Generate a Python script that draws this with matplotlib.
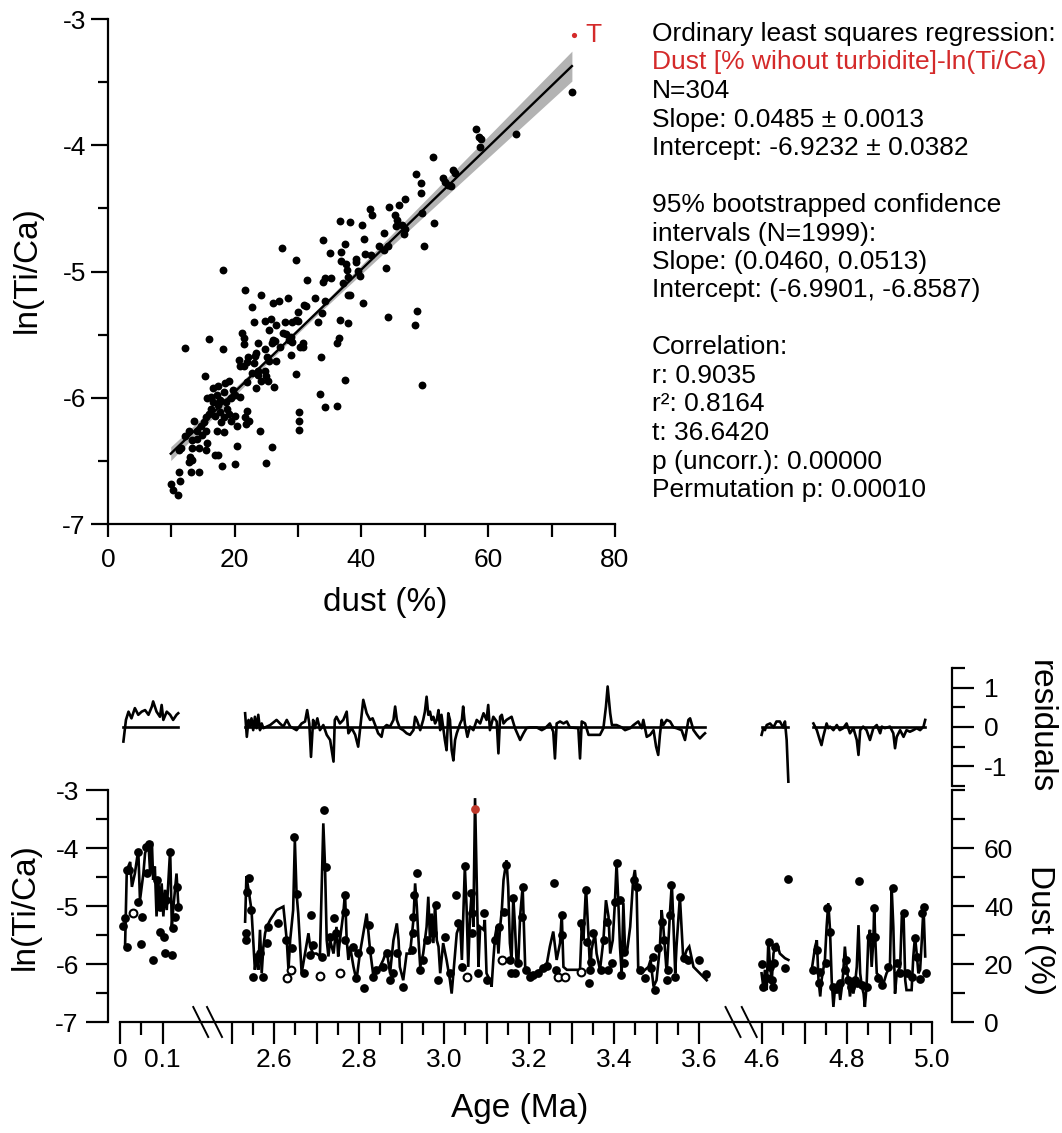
import numpy as np
import matplotlib
matplotlib.use("Agg")
import matplotlib.pyplot as plt
from matplotlib.ticker import FixedLocator, FuncFormatter, MultipleLocator
from matplotlib.lines import Line2D

plt.rcParams['font.family'] = ['Liberation Sans', 'DejaVu Sans']
plt.rcParams['axes.unicode_minus'] = False

RED = '#d42a2a'

# ---------------- regression statistics (from the text block) ----------------
slope = 0.0485
intercept = -6.9232
slope_ci = (0.0460, 0.0513)

# ---------------- scatter: dust (%) vs ln(Ti/Ca) ----------------
scatter_dust = [73.2, 64.3, 58.0, 58.5, 58.9, 58.7, 51.3, 48.6, 49.4, 49.4, 52.8, 53.2, 54.5, 54.8, 53.7, 54.2,
                51.4, 49.6, 49.8, 46.9, 45.9, 44.4, 45.3, 45.6, 45.5, 46.4, 46.8, 46.7, 41.4, 41.6, 40.1, 43.6,
                42.7, 43.5, 44.2, 43.9, 44.2, 48.8, 48.4, 49.5, 40.4, 40.5, 41.5, 39.1, 39.2, 39.5, 39.8, 38.2,
                36.6, 37.4, 36.7, 36.7, 37.6, 37.7, 35.1, 33.9, 37.8, 37.1, 37.8, 38.2, 40.3, 35.2, 34.3, 33.9,
                31.4, 34.3, 32.7, 31.0, 31.3, 33.7, 33.2, 36.6, 37.9, 36.4, 36.2, 37.4, 29.6, 27.4, 28.4, 27.0,
                26.1, 24.1, 21.6, 22.8, 30.0, 29.6, 30.0, 29.1, 27.9, 26.5, 25.7, 24.8, 23.1, 25.4, 26.1, 27.6,
                28.1, 28.5, 29.1, 30.8, 30.7, 30.3, 26.3, 25.9, 21.1, 21.4, 16.0, 12.1, 18.1, 18.1, 20.7, 22.1,
                23.4, 24.7, 25.1, 26.5, 28.8, 33.6, 29.7, 24.8, 23.7, 23.1, 21.9, 21.4, 20.8, 24.9, 26.2, 21.9,
                23.4, 25.2, 20.8, 19.7, 19.1, 18.5, 17.4, 16.6, 15.3, 16.3, 17.2, 18.3, 19.4, 20.0, 15.7, 16.3,
                17.4, 17.7, 18.6, 16.9, 18.3, 19.4, 20.0, 20.3, 21.9, 21.6, 22.3, 21.7, 16.0, 15.5, 15.2, 14.6,
                13.5, 14.0, 12.8, 12.1, 11.5, 13.2, 14.0, 14.9, 15.5, 15.7, 17.2, 18.3, 15.5, 14.3, 13.2, 12.9,
                13.2, 12.8, 11.2, 16.9, 17.3, 18.0, 20.3, 20.0, 24.0, 25.8, 24.9, 30.2, 30.2, 30.2, 33.5, 34.2,
                36.1, 11.2, 13.1, 14.3, 11.3, 9.9, 10.2, 11.1, 16.6, 17.7, 18.8, 19.1, 17.9, 21.4, 23.2, 23.7,
                24.2, 23.7, 22.8, 25.4, 27.1, 28.8]
scatter_ln = [-3.575, -3.907, -3.872, -3.935, -3.954, -4.011, -4.093, -4.229, -4.297, -4.379, -4.256, -4.289,
              -4.193, -4.221, -4.316, -4.324, -4.616, -4.534, -4.796, -4.425, -4.474, -4.493, -4.556, -4.589,
              -4.638, -4.629, -4.665, -4.703, -4.507, -4.553, -4.629, -4.698, -4.801, -4.828, -4.801, -4.970,
              -5.362, -5.316, -5.425, -5.899, -4.741, -4.861, -4.866, -4.921, -4.902, -4.997, -5.038, -4.608,
              -4.597, -4.779, -4.842, -4.916, -4.943, -4.989, -4.856, -4.747, -5.044, -5.095, -5.183, -5.183,
              -5.251, -5.052, -5.052, -5.087, -5.071, -5.237, -5.210, -5.264, -5.270, -5.332, -5.401, -5.384,
              -5.411, -5.529, -5.569, -5.856, -4.907, -4.815, -5.210, -5.237, -5.248, -5.188, -5.147, -5.278,
              -5.319, -5.387, -5.392, -5.398, -5.401, -5.420, -5.379, -5.392, -5.401, -5.466, -5.542, -5.488,
              -5.493, -5.542, -5.556, -5.569, -5.597, -5.597, -5.548, -5.569, -5.488, -5.523, -5.534, -5.605,
              -4.992, -5.610, -5.698, -5.678, -5.643, -5.616, -5.678, -5.711, -5.659, -5.678, -5.815, -5.787,
              -5.787, -5.727, -5.719, -5.747, -5.752, -5.828, -5.916, -5.877, -5.924, -5.864, -5.997, -5.937,
              -5.869, -5.883, -5.905, -5.924, -5.828, -5.992, -5.978, -5.951, -6.005, -5.978, -6.005, -6.087,
              -6.060, -6.114, -6.033, -6.142, -6.155, -6.183, -6.142, -6.223, -6.106, -6.155, -6.183, -6.210,
              -6.128, -6.155, -6.196, -6.223, -6.183, -6.264, -6.264, -6.305, -6.401, -6.332, -6.327, -6.292,
              -6.264, -6.360, -6.264, -6.273, -6.414, -6.401, -6.401, -6.469, -6.496, -6.510, -6.414, -6.455,
              -6.455, -6.537, -6.379, -6.523, -6.264, -6.387, -6.520, -6.114, -6.183, -6.259, -5.973, -6.074,
              -6.068, -6.591, -6.591, -6.591, -6.659, -6.687, -6.728, -6.768, -6.033, -6.019, -6.087, -6.128,
              -6.191, -5.574, -5.673, -5.569, -5.869, -5.820, -5.806, -5.706, -5.597, -5.515]
turb_sc_dust = [73.5]
turb_sc_ln = [-3.13]

# ---------------- time series: ln(Ti/Ca) line, per segment ----------------
line_age_1 = [0.012, 0.016, 0.024, 0.028, 0.035, 0.043, 0.047, 0.055, 0.059, 0.067, 0.071, 0.075, 0.078,
              0.082, 0.086, 0.090, 0.094, 0.098, 0.102, 0.106, 0.110, 0.118, 0.122, 0.125, 0.133, 0.137]
line_ln_1 = [-5.67, -4.38, -4.24, -4.67, -4.44, -4.03, -4.90, -4.44, -4.09, -3.92, -4.44, -3.89, -4.55,
             -4.32, -5.18, -4.55, -5.01, -4.61, -5.18, -4.72, -5.07, -4.03, -5.36, -5.07, -4.44, -4.95]

line_age_2 = [2.532, 2.535, 2.540, 2.547, 2.551, 2.555, 2.559, 2.563, 2.567, 2.571, 2.575, 2.579, 2.583, 2.591,
              2.606, 2.622, 2.630, 2.634, 2.638, 2.645, 2.649, 2.653, 2.657, 2.665, 2.673, 2.681, 2.685, 2.692,
              2.700, 2.708, 2.716, 2.720, 2.724, 2.728, 2.732, 2.740, 2.747, 2.751, 2.755, 2.763, 2.767, 2.771,
              2.775, 2.779, 2.787, 2.794, 2.802, 2.810, 2.818, 2.826, 2.834, 2.842, 2.849, 2.857, 2.865, 2.873,
              2.881, 2.889, 2.893, 2.896, 2.904, 2.912, 2.920, 2.928, 2.932, 2.936, 2.940, 2.944, 2.951, 2.959,
              2.963, 2.967, 2.971, 2.975, 2.979, 2.983, 2.987, 2.991, 2.998, 3.006, 3.014, 3.018, 3.022, 3.030,
              3.038, 3.042, 3.049, 3.053, 3.057, 3.061, 3.065, 3.069, 3.073, 3.077, 3.081, 3.085,
              3.093, 3.096, 3.100, 3.108, 3.112, 3.116, 3.120, 3.124, 3.128, 3.132, 3.136, 3.140, 3.147, 3.151,
              3.155, 3.159, 3.163, 3.167, 3.171, 3.175, 3.179, 3.185, 3.191, 3.194, 3.202, 3.218, 3.234, 3.242,
              3.249, 3.257, 3.265, 3.273, 3.277, 3.281, 3.289, 3.320, 3.324, 3.328, 3.334, 3.340, 3.344, 3.347,
              3.355, 3.359, 3.367, 3.375, 3.381, 3.387, 3.391, 3.397, 3.402, 3.406, 3.410, 3.414, 3.418, 3.422,
              3.426, 3.430, 3.438, 3.445, 3.449, 3.453, 3.457, 3.465, 3.473, 3.481, 3.486, 3.493, 3.500, 3.508,
              3.512, 3.516, 3.524, 3.532, 3.536, 3.540, 3.544, 3.547, 3.555, 3.563, 3.571, 3.577, 3.587, 3.602,
              3.618]
line_ln_2 = [-5.27, -4.49, -4.72, -5.07, -5.59, -6.10, -5.82, -6.10, -5.41, -6.16, -5.70, -5.47, -5.36, -5.24,
             -5.07, -5.01, -5.59, -6.10, -5.59, -5.07, -3.86, -4.78, -5.13, -6.16, -5.82, -5.47, -5.70, -5.82,
             -5.82, -5.87, -3.575, -4.32, -5.59, -5.87, -5.59, -5.82, -5.36, -5.87, -5.59, -5.13, -4.78, -5.59,
             -5.93, -5.70, -6.05, -6.28, -5.82, -5.47, -5.13, -5.76, -6.22, -6.10, -6.05, -5.93, -5.76, -6.16,
             -5.59, -5.30, -5.59, -6.05, -6.28, -5.82, -5.82, -5.24, -4.61, -5.01, -5.59, -6.05, -5.82, -5.36,
             -4.84, -5.59, -5.13, -5.64, -4.95, -5.59, -5.70, -6.16, -5.64, -5.93, -6.28, -6.51, -6.16, -5.47,
             -5.30, -5.93, -4.32, -5.01, -6.05, -5.18, -4.78, -5.36, -3.14, -4.55, -6.05, -5.36,
             -5.41, -5.24, -6.16, -6.28, -6.39, -5.93, -5.53, -5.36, -5.82, -5.36, -5.07, -4.55, -4.21, -4.67,
             -5.64, -5.93, -4.84, -5.36, -5.99, -5.93, -5.18, -4.67, -6.05, -6.10, -6.16, -6.16, -6.05, -5.99,
             -5.70, -5.44, -5.93, -5.64, -5.13, -6.05, -6.10, -6.10, -5.36, -5.59, -4.67, -5.53, -6.16, -5.76,
             -5.47, -5.82, -6.10, -5.59, -4.90, -5.18, -5.82, -5.59, -4.95, -4.26, -4.90, -5.70, -6.16, -4.95,
             -5.76, -5.82, -5.36, -4.55, -4.38, -4.67, -6.10, -6.16, -6.10, -6.05, -5.93, -6.39, -6.28, -5.70,
             -5.07, -5.36, -6.16, -5.07, -4.61, -5.36, -6.16, -5.70, -4.84, -5.93, -5.76, -5.70, -6.05, -6.16,
             -6.28]

line_age_3a = [4.599, 4.603, 4.607, 4.611, 4.615, 4.619, 4.623, 4.627, 4.631, 4.635, 4.642, 4.654, 4.662]
line_ln_3a = [-6.16, -6.39, -6.10, -6.45, -5.59, -6.05, -6.28, -5.82, -5.70, -5.64, -5.82, -5.90, -5.93]

line_age_3b = [4.717, 4.725, 4.729, 4.733, 4.737, 4.740, 4.744, 4.748, 4.752, 4.756, 4.760, 4.764, 4.768,
               4.772, 4.776, 4.780, 4.784, 4.788, 4.791, 4.795, 4.799, 4.803, 4.807, 4.811, 4.815, 4.819,
               4.823, 4.827, 4.831, 4.835, 4.839, 4.842, 4.846, 4.850, 4.854, 4.858, 4.862, 4.864, 4.866,
               4.870, 4.878, 4.886, 4.893, 4.901, 4.905, 4.909, 4.913, 4.917, 4.925, 4.929, 4.933, 4.937,
               4.940, 4.952, 4.956, 4.960, 4.964, 4.968, 4.972, 4.976, 4.980, 4.984]
line_ln_3b = [-6.10, -5.70, -5.59, -6.28, -6.56, -6.28, -6.10, -5.93, -5.36, -4.95, -5.41, -6.28, -6.74,
              -6.39, -6.51, -6.33, -6.62, -6.39, -6.16, -5.70, -6.05, -6.28, -6.56, -6.33, -6.51, -6.33,
              -6.05, -5.33, -6.16, -6.39, -6.51, -6.74, -6.39, -5.59, -5.41, -6.05, -5.59, -5.01, -5.47,
              -6.16, -6.22, -6.33, -6.16, -6.05, -4.67, -5.36, -6.51, -6.16, -6.05, -5.18, -5.13, -6.28,
              -6.45, -6.45, -5.87, -5.53, -5.82, -6.16, -6.10, -5.59, -5.01, -5.87]

# ---------------- time series: dust (%) samples ----------------
dust_age = [0.008, 0.012, 0.016, 0.017, 0.022, 0.042, 0.043, 0.049, 0.051, 0.061, 0.064, 0.069, 0.078,
            0.086, 0.093, 0.094, 0.104, 0.106, 0.108, 0.118, 0.122, 0.125, 0.129, 0.135, 0.137,
            2.533, 2.533, 2.540, 2.537, 2.546, 2.551, 2.567, 2.573, 2.583, 2.587, 2.610, 2.628, 2.642, 2.648,
            2.653, 2.671, 2.685, 2.687, 2.691, 2.712, 2.718, 2.722, 2.732, 2.740, 2.747, 2.767, 2.767, 2.767,
            2.785, 2.794, 2.798, 2.812, 2.824, 2.826, 2.834, 2.839, 2.857, 2.865, 2.873, 2.881, 2.889, 2.904,
            2.924, 2.926, 2.928, 2.929, 2.936, 2.944, 2.951, 2.959, 2.975, 2.981, 2.987, 3.002, 3.014, 3.028,
            3.034, 3.042, 3.049, 3.063, 3.065, 3.067, 3.081, 3.094, 3.102,
            3.120, 3.130, 3.141, 3.147, 3.155, 3.157, 3.163, 3.167, 3.175, 3.183, 3.187, 3.194, 3.202, 3.210,
            3.222, 3.234, 3.242, 3.259, 3.264, 3.277, 3.277, 3.322, 3.334, 3.336, 3.340, 3.344, 3.347, 3.351,
            3.369, 3.376, 3.383, 3.387, 3.395, 3.402, 3.406, 3.414, 3.416, 3.424, 3.424, 3.448, 3.455, 3.461,
            3.473, 3.486, 3.491, 3.496, 3.504, 3.512, 3.518, 3.524, 3.528, 3.532, 3.534, 3.544, 3.555, 3.565,
            3.575, 3.601, 3.616,
            4.599, 4.603, 4.611, 4.617, 4.619, 4.623, 4.627, 4.629, 4.631, 4.653, 4.662,
            4.721, 4.729, 4.733, 4.737, 4.751, 4.754, 4.760, 4.768, 4.776, 4.784, 4.795, 4.798, 4.803, 4.809,
            4.819, 4.823, 4.829, 4.835, 4.846, 4.853, 4.858, 4.864, 4.866, 4.874, 4.882, 4.897, 4.908, 4.917,
            4.925, 4.934, 4.940, 4.952, 4.960, 4.964, 4.972, 4.976, 4.980, 4.986]
dust_pct = [33.1, 35.7, 26.0, 52.4, 52.4, 58.7, 41.5, 26.8, 36.3, 60.5, 51.3, 61.4, 21.4,
            49.0, 31.1, 39.8, 29.4, 23.7, 42.1, 58.7, 23.1, 32.3, 36.3, 46.7, 39.8,
            30.6, 28.3, 49.5, 44.9, 38.6, 15.4, 23.7, 15.4, 27.1, 32.9, 34.0, 28.3, 25.4, 63.9,
            44.1, 16.8, 23.1, 36.9, 26.6, 22.5, 73.1, 53.6, 29.4, 35.7, 30.6, 43.8, 38.0, 28.3,
            26.0, 15.1, 23.7, 11.6, 33.4, 24.8, 15.6, 17.9, 19.1, 23.7, 14.5, 16.8, 23.7, 12.2,
            24.8, 30.6, 36.3, 43.8, 51.3, 17.9, 21.4, 28.3, 30.6, 40.3, 14.5, 29.4, 16.8, 43.8,
            34.0, 19.1, 53.9, 44.4, 37.5, 30.6, 16.8, 37.5, 14.5,
            28.3, 32.9, 38.0, 54.1, 21.4, 16.8, 42.6, 16.8, 20.2, 36.3, 46.4, 17.9, 15.6, 16.2,
            16.8, 18.5, 19.3, 48.0, 17.9, 36.9, 30.0, 34.0, 45.5, 27.7, 13.3, 17.9, 20.8, 30.6,
            17.9, 28.3, 34.6, 17.9, 20.5, 41.5, 54.7, 42.1, 16.2, 20.5, 24.2, 49.0, 46.7, 17.9,
            15.1, 18.5, 22.5, 11.0, 25.4, 34.6, 28.3, 14.5, 17.9, 36.9, 47.2, 15.6, 43.2, 22.0,
            21.4, 21.4, 16.5,
            20.0, 12.2, 15.1, 27.7, 19.1, 14.5, 12.2, 20.2, 26.0, 18.5, 49.2,
            17.9, 24.8, 13.3, 17.3, 20.2, 39.2, 31.2, 12.2, 12.2, 13.3, 17.9, 21.4, 14.5, 12.2,
            14.5, 13.3, 48.6, 12.7, 12.2, 29.4, 29.4, 39.2, 29.4, 15.1, 12.7, 19.1, 46.1, 20.2,
            16.8, 37.5, 16.8, 15.6, 28.9, 22.5, 14.7, 37.5, 39.8, 16.8]
dust_open_age = [0.031, 2.631, 2.639, 2.708, 2.755, 3.055, 3.136, 3.269, 3.285, 3.322]
dust_open_pct = [37.5, 15.1, 17.9, 15.9, 16.8, 15.6, 21.4, 15.4, 15.4, 17.3]
turb_age = [3.073]
turb_dust = [73.4]

# ---------------- residuals, per segment ----------------
res_age_1 = [0.008, 0.014, 0.020, 0.027, 0.035, 0.043, 0.051, 0.059, 0.067, 0.075, 0.078, 0.086, 0.094,
             0.098, 0.102, 0.110, 0.118, 0.125, 0.133, 0.137]
res_1 = [-0.37, 0.18, 0.39, 0.22, 0.48, 0.31, 0.39, 0.43, 0.31, 0.52, 0.65, 0.39, 0.26, 0.56, 0.18, 0.39,
         0.31, 0.18, 0.31, 0.35]
res_age_2 = [2.532, 2.536, 2.540, 2.543, 2.547, 2.551, 2.555, 2.559, 2.563, 2.567, 2.571, 2.575, 2.583, 2.591,
             2.606, 2.614, 2.622, 2.630, 2.638, 2.645, 2.653, 2.665, 2.673, 2.678, 2.683, 2.687, 2.692, 2.696,
             2.702, 2.708, 2.716, 2.724, 2.732, 2.740, 2.743, 2.747, 2.755, 2.763, 2.771, 2.775, 2.783, 2.791,
             2.798, 2.805, 2.810, 2.818, 2.826, 2.832, 2.838, 2.845, 2.853, 2.857, 2.865, 2.873, 2.881, 2.885,
             2.889, 2.896, 2.904, 2.912, 2.920, 2.928, 2.932, 2.936, 2.944, 2.951, 2.955, 2.959, 2.963, 2.967,
             2.971, 2.975, 2.979, 2.983, 2.987, 2.991, 2.994, 3.002, 3.006, 3.010, 3.014, 3.018, 3.022, 3.026,
             3.030, 3.038, 3.042, 3.045, 3.049, 3.055, 3.061, 3.069, 3.077, 3.085, 3.093, 3.100, 3.104, 3.108,
             3.116, 3.124, 3.128, 3.132, 3.136, 3.140, 3.147, 3.159, 3.167, 3.179, 3.187, 3.194, 3.202, 3.218,
             3.230, 3.238, 3.249, 3.257, 3.261, 3.265, 3.273, 3.281, 3.289, 3.296, 3.316, 3.320, 3.324, 3.332,
             3.340, 3.351, 3.367, 3.375, 3.381, 3.385, 3.391, 3.395, 3.406, 3.418, 3.426, 3.438, 3.446, 3.457,
             3.465, 3.469, 3.477, 3.485, 3.493, 3.499, 3.504, 3.508, 3.512, 3.516, 3.524, 3.532, 3.540, 3.547,
             3.559, 3.567, 3.575, 3.579, 3.587, 3.595, 3.602, 3.610, 3.614]
res_2 = [0.35, -0.25, 0.18, 0.01, 0.22, -0.08, 0.26, -0.03, 0.31, -0.08, 0.09, -0.03, 0.01, 0.05,
         0.18, 0.09, 0.01, 0.18, 0.01, -0.03, -0.08, 0.09, 0.14, 0.43, 0.09, -0.76, 0.18, -0.03,
         0.22, -0.08, 0.05, -0.20, -0.33, -0.88, 0.18, 0.26, 0.09, 0.18, 0.39, -0.16, -0.03, -0.20,
         -0.50, 0.18, 0.69, 0.35, 0.18, 0.22, 0.05, -0.16, -0.25, -0.03, 0.05, 0.01, 0.18, 0.52,
         0.18, -0.03, -0.08, -0.16, -0.20, -0.08, 0.26, 0.18, -0.08, 0.18, 0.39, 0.77, 0.31, 0.39,
         0.18, 0.26, 0.09, 0.18, 0.43, -0.08, 0.31, -0.33, -0.59, 0.35, 0.18, -0.59, -0.85, -0.33,
         -0.16, 0.09, 0.18, 0.52, 0.09, -0.25, 0.01, -0.08, 0.18, 0.09, 0.35, 0.18, 0.56, -0.08,
         0.26, 0.14, -0.67, 0.26, 0.31, 0.09, 0.18, 0.26, -0.03, -0.33, -0.16, -0.03, -0.01, -0.01,
         -0.08, -0.03, 0.09, -0.12, -0.80, 0.09, 0.14, 0.09, 0.14, -0.01, -0.03, -0.80, 0.14, 0.09,
         -0.20, -0.20, -0.20, -0.03, 0.52, 1.03, 0.35, 0.05, 0.05, -0.01, -0.08, -0.03, 0.05, 0.14,
         -0.03, 0.18, -0.25, -0.20, -0.08, -0.50, -0.71, -0.20, 0.18, 0.05, 0.18, 0.14, -0.01, -0.03,
         -0.08, -0.33, 0.18, 0.22, -0.08, -0.20, -0.29, -0.20, -0.16]
res_age_3a = [4.599, 4.603, 4.607, 4.611, 4.619, 4.627, 4.634, 4.642, 4.650, 4.654, 4.658, 4.662]
res_3a = [-0.20, -0.03, -0.08, 0.05, 0.09, -0.01, 0.14, 0.14, -0.01, 0.14, -0.33, -1.39]
res_age_3b = [4.721, 4.729, 4.736, 4.740, 4.744, 4.748, 4.752, 4.756, 4.760, 4.768, 4.776, 4.783, 4.791,
              4.799, 4.807, 4.815, 4.823, 4.827, 4.831, 4.838, 4.846, 4.854, 4.862, 4.870, 4.878, 4.882,
              4.889, 4.901, 4.909, 4.913, 4.917, 4.925, 4.933, 4.940, 4.948, 4.956, 4.964, 4.972, 4.980,
              4.984]
res_3b = [0.09, -0.08, -0.33, -0.46, -0.25, -0.08, 0.09, -0.03, 0.01, -0.08, 0.05, -0.08, -0.03,
          0.09, -0.16, -0.03, -0.33, -0.71, -0.08, 0.01, -0.08, -0.33, -0.03, 0.05, -0.16, 0.01,
          -0.03, 0.01, -0.16, -0.54, -0.25, -0.08, -0.25, -0.08, -0.12, -0.08, -0.03, -0.08, 0.01,
          0.18]

# ---------------- axis ticks ----------------
age_major = [0, 0.1, 2.5, 2.6, 2.7, 2.8, 2.9, 3.0, 3.1, 3.2, 3.3, 3.4, 3.5, 3.6, 4.6, 4.7, 4.8, 4.9, 5.0]
age_minor = [0.05, 2.55, 2.65, 2.75, 2.85, 2.95, 3.05, 3.15, 3.25, 3.35, 3.45, 3.55, 4.65, 4.75, 4.85, 4.95]
age_labels = {0: '0', 0.1: '0.1', 2.6: '2.6', 2.8: '2.8', 3.0: '3.0', 3.2: '3.2', 3.4: '3.4',
              3.6: '3.6', 4.6: '4.6', 4.8: '4.8', 5.0: '5.0'}
# broken axis: segment edges (Ma) and their positions on a continuous internal axis
seg_age = [-1.0, 0.19, 2.46, 3.68, 4.57, 6.0]
seg_pos = [-1.0, 0.19, 0.2224, 1.4424, 1.4806, 2.9106]

W, H = 1062, 1133
fig = plt.figure(figsize=(W / 100, H / 100), dpi=100)


def box(x0, y0, x1, y1):
    return [x0 / W, 1 - y1 / H, (x1 - x0) / W, (y1 - y0) / H]


LW = 1.6
TICK = 19
LAB = 24
SERIES_LW = 1.9

# ======================= scatter =======================
ax = fig.add_axes(box(108, 19, 615, 524))
xfit = np.linspace(min(scatter_dust), max(scatter_dust), 200)
yfit = intercept + slope * xfit
xm = np.mean(scatter_dust)
half = np.sqrt(0.02 ** 2 + ((slope_ci[1] - slope_ci[0]) / 2 * (xfit - xm)) ** 2)
ax.fill_between(xfit, yfit - half, yfit + half, color='#b3b3b3', lw=0, zorder=1)
ax.plot(xfit, yfit, color='k', lw=1.7, zorder=2)
ax.scatter(scatter_dust, scatter_ln, s=32, c='k', lw=0, zorder=3)
ax.scatter(turb_sc_dust, turb_sc_ln, s=14, c=RED, lw=0, zorder=3)
ax.text(turb_sc_dust[0] + 1.8, turb_sc_ln[0], 'T', color=RED, fontsize=TICK, ha='left', va='center')
ax.set_xlim(0, 80)
ax.set_ylim(-7, -3)
for s in ('top', 'right'):
    ax.spines[s].set_visible(False)
for s in ('left', 'bottom'):
    ax.spines[s].set_linewidth(LW)
ax.xaxis.set_major_locator(MultipleLocator(10))
ax.xaxis.set_major_formatter(FuncFormatter(lambda v, p: f'{v:.0f}' if int(round(v)) % 20 == 0 else ''))
ax.yaxis.set_major_locator(MultipleLocator(1))
ax.yaxis.set_minor_locator(MultipleLocator(0.5))
ax.yaxis.set_major_formatter(FuncFormatter(lambda v, p: f'{v:.0f}'))
ax.tick_params(axis='x', which='major', length=9, width=LW, labelsize=TICK, pad=8)
ax.tick_params(axis='y', which='major', length=12, width=LW, labelsize=TICK, pad=4)
ax.tick_params(axis='y', which='minor', length=7, width=LW)
fig.text(27 / W, 1 - 270 / H, 'ln(Ti/Ca)', rotation=90, ha='center', va='center', fontsize=LAB)
fig.text(385 / W, 1 - 602 / H, 'dust (%)', ha='center', va='center', fontsize=LAB)

# statistics text block
stat_lines = [
    ('Ordinary least squares regression:', 'k'),
    ('Dust [% wihout turbidite]-ln(Ti/Ca)', RED),
    ('N=304', 'k'),
    ('Slope: 0.0485 ± 0.0013', 'k'),
    ('Intercept: -6.9232 ± 0.0382', 'k'),
    ('', 'k'),
    ('95% bootstrapped confidence', 'k'),
    ('intervals (N=1999):', 'k'),
    ('Slope: (0.0460, 0.0513)', 'k'),
    ('Intercept: (-6.9901, -6.8587)', 'k'),
    ('', 'k'),
    ('Correlation:', 'k'),
    ('r: 0.9035', 'k'),
    ('r²: 0.8164', 'k'),
    ('t: 36.6420', 'k'),
    ('p (uncorr.): 0.00000', 'k'),
    ('Permutation p: 0.00010', 'k'),
]
for k, (txt, col) in enumerate(stat_lines):
    if txt:
        fig.text(652 / W, 1 - (34 + 28.5 * k) / H, txt, color=col, fontsize=19,
                 ha='left', va='center')

# ======================= time series =======================
fwd = lambda a: np.interp(a, seg_age, seg_pos)
inv = lambda u: np.interp(u, seg_pos, seg_age)
px_per_ma = 425.0
xlim = (inv((108 - 120) / px_per_ma), inv((952 - 120) / px_per_ma))

axB = fig.add_axes(box(108, 790, 952, 1022))
axB.set_xscale('function', functions=(fwd, inv))
axB.set_xlim(*xlim)
axB.set_ylim(-7, -3)
for a_, l_ in ((line_age_1, line_ln_1), (line_age_2, line_ln_2),
               (line_age_3a, line_ln_3a), (line_age_3b, line_ln_3b)):
    axB.plot(a_, l_, color='k', lw=SERIES_LW, zorder=2, solid_joinstyle='miter')
axB.spines['top'].set_visible(False)
axB.spines['right'].set_visible(False)
axB.spines['left'].set_linewidth(LW)
axB.spines['bottom'].set_linewidth(LW)
axB.spines['bottom'].set_bounds(0, 5.0)
axB.xaxis.set_major_locator(FixedLocator(age_major))
axB.xaxis.set_minor_locator(FixedLocator(age_minor))


def age_fmt(v, p):
    for k_, s_ in age_labels.items():
        if abs(v - k_) < 1e-6:
            return s_
    return ''


axB.xaxis.set_major_formatter(FuncFormatter(age_fmt))
axB.xaxis.set_minor_formatter(FuncFormatter(lambda v, p: ''))
axB.tick_params(axis='x', which='major', length=16, width=LW, labelsize=TICK, pad=3)
axB.tick_params(axis='x', which='minor', length=9, width=LW)
axB.yaxis.set_major_locator(MultipleLocator(1))
axB.yaxis.set_minor_locator(MultipleLocator(0.5))
axB.yaxis.set_major_formatter(FuncFormatter(lambda v, p: f'{v:.0f}'))
axB.tick_params(axis='y', which='major', length=16, width=LW, labelsize=TICK, pad=5)
axB.tick_params(axis='y', which='minor', length=9, width=LW)

axD = axB.twinx()
axD.set_ylim(0, 80)
axD.plot(dust_age, dust_pct, 'o', color='k', ms=6.3, mew=0, zorder=3)
axD.plot(dust_open_age, dust_open_pct, 'o', mfc='white', mec='k', ms=5.6, mew=1.5, zorder=3)
axD.plot(turb_age, turb_dust, 'o', color='#c0392b', ms=6.3, mew=0, zorder=4)
for s in ('left', 'top', 'bottom'):
    axD.spines[s].set_visible(False)
axD.spines['right'].set_linewidth(LW)
axD.yaxis.set_major_locator(FixedLocator([0, 20, 40, 60]))
axD.yaxis.set_minor_locator(FixedLocator([10, 30, 50, 70, 80]))
axD.yaxis.set_major_formatter(FuncFormatter(lambda v, p: f'{v:.0f}'))
axD.tick_params(axis='y', which='major', length=16, width=LW, labelsize=TICK, pad=7)
axD.tick_params(axis='y', which='minor', length=9, width=LW)

axR = fig.add_axes(box(108, 668, 952, 786))
axR.patch.set_visible(False)
axR.set_xscale('function', functions=(fwd, inv))
axR.set_xlim(*xlim)
axR.set_ylim(-1.5, 1.5)
for a_, r_ in ((res_age_1, res_1), (res_age_2, res_2), (res_age_3a, res_3a), (res_age_3b, res_3b)):
    axR.plot([min(a_), max(a_)], [0, 0], color='k', lw=SERIES_LW)
    axR.plot(a_, r_, color='k', lw=SERIES_LW)
for s in ('left', 'top', 'bottom'):
    axR.spines[s].set_visible(False)
axR.spines['right'].set_linewidth(LW)
axR.xaxis.set_visible(False)
axR.yaxis.tick_right()
axR.yaxis.set_major_locator(FixedLocator([-1, 0, 1]))
axR.yaxis.set_minor_locator(FixedLocator([-1.5, -0.5, 0.5, 1.5]))
axR.yaxis.set_major_formatter(FuncFormatter(lambda v, p: f'{v:.0f}'))
axR.tick_params(axis='y', which='major', length=16, width=LW, labelsize=TICK, pad=7)
axR.tick_params(axis='y', which='minor', length=9, width=LW)

# break marks on the age axis
inv_fig = fig.transFigure.inverted()
for edge in (seg_age[1], seg_age[2], seg_age[3], seg_age[4]):
    xd, yd = axB.transData.transform((edge, -7))
    p0 = inv_fig.transform((xd - 7.5, yd + 15))
    p1 = inv_fig.transform((xd + 7.5, yd - 15))
    fig.add_artist(Line2D([p0[0], p1[0]], [p0[1], p1[1]], color='k', lw=1.4,
                          transform=fig.transFigure))

fig.text(25 / W, 1 - 907 / H, 'ln(Ti/Ca)', rotation=90, ha='center', va='center', fontsize=LAB)
fig.text(520 / W, 1 - 1108 / H, 'Age (Ma)', ha='center', va='center', fontsize=LAB)
fig.text(1040 / W, 1 - 727 / H, 'residuals', rotation=270, ha='center', va='center', fontsize=LAB)
fig.text(1040 / W, 1 - 930 / H, 'Dust (%)', rotation=270, ha='center', va='center', fontsize=LAB)

fig.savefig('out.png', dpi=100, facecolor='white')
